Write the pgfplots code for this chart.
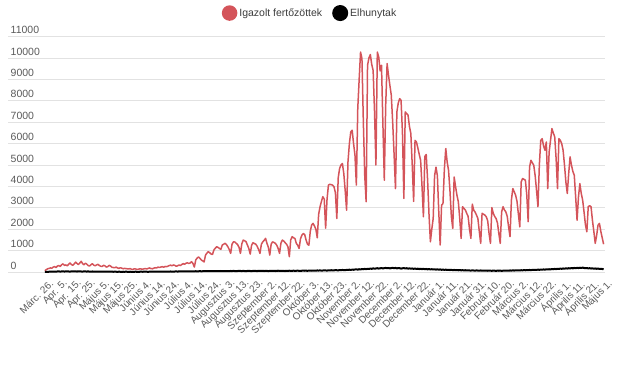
\documentclass[border=0pt]{standalone}
\usepackage{pgfplots}
\pgfplotsset{compat=1.18}
\usepackage{pgfplotstable}
\usepackage{fontspec}
\setmainfont{Liberation Sans}
\definecolor{casered}{RGB}{212,84,90}
\definecolor{gridgray}{RGB}{226,226,226}
\definecolor{ticktext}{RGB}{90,90,90}
\definecolor{legtext}{RGB}{60,60,60}

% daily confirmed cases, Márc. 26. (index 0) ... Május 1. (index 400)
\pgfplotstableread[row sep=\\]{c\\
60\\110\\150\\170\\190\\180\\230\\250\\210\\280\\
300\\260\\340\\380\\310\\330\\290\\360\\420\\350\\
310\\380\\460\\400\\350\\420\\500\\390\\340\\410\\
370\\300\\280\\340\\390\\320\\290\\330\\360\\300\\
270\\260\\310\\290\\230\\250\\310\\280\\220\\210\\
200\\230\\190\\170\\200\\180\\150\\170\\160\\150\\
140\\160\\130\\120\\150\\140\\120\\130\\150\\140\\
130\\150\\160\\140\\170\\190\\160\\150\\180\\200\\
190\\230\\210\\230\\250\\220\\260\\250\\270\\300\\
320\\290\\330\\310\\270\\290\\330\\300\\350\\390\\
360\\410\\430\\400\\420\\480\\400\\230\\560\\650\\
700\\640\\560\\520\\470\\790\\880\\950\\900\\840\\
820\\1030\\1110\\1180\\1150\\1100\\1060\\1260\\1300\\1340\\
1280\\1180\\1050\\870\\1300\\1410\\1400\\1340\\1280\\1150\\
870\\1320\\1490\\1460\\1420\\1260\\1100\\840\\1250\\1370\\
1330\\1300\\1200\\1050\\870\\1300\\1410\\1480\\1570\\1340\\
1150\\790\\1300\\1410\\1380\\1340\\1250\\1100\\870\\1350\\
1490\\1450\\1370\\1300\\1180\\715\\1500\\1650\\1600\\1570\\
1340\\1250\\1100\\1550\\1720\\1800\\1750\\1490\\1300\\1250\\
1900\\2200\\2270\\2150\\2000\\1600\\2700\\3050\\3300\\3520\\
3400\\2050\\3400\\4060\\4100\\4080\\4060\\3980\\3700\\2500\\
4400\\4840\\5000\\5070\\4600\\3800\\2890\\5150\\6000\\6550\\
6625\\6000\\5460\\4060\\7640\\9000\\10280\\9970\\7000\\4500\\
3280\\9660\\10000\\10160\\9700\\9420\\7500\\5000\\10280\\10050\\
9400\\9660\\6900\\4290\\7800\\9740\\9200\\8720\\8260\\7000\\
5500\\3900\\7480\\7900\\8100\\8020\\6500\\3440\\7480\\7400\\
7330\\6800\\6470\\5000\\3300\\6150\\6075\\5800\\5500\\5220\\
4000\\2580\\5400\\5490\\4300\\2700\\1410\\2000\\2500\\4500\\
4900\\4500\\2800\\1260\\3120\\3200\\4800\\5770\\5140\\4750\\
3800\\2600\\2040\\4440\\4000\\3590\\3280\\2500\\1570\\3050\\
2970\\2900\\2740\\2600\\2000\\1570\\3170\\2890\\2800\\2660\\
2500\\1900\\1340\\2740\\2700\\2660\\2580\\2400\\1800\\1340\\
3010\\2740\\2600\\2500\\2300\\1800\\1340\\2810\\3050\\2900\\
2810\\2600\\2100\\1650\\3360\\3900\\3750\\3590\\3300\\2700\\
2110\\4210\\4370\\4330\\4290\\3600\\2350\\4910\\5220\\5100\\
4990\\4500\\3800\\3050\\5000\\6150\\6230\\5900\\5690\\6075\\
3900\\5600\\6150\\6700\\6500\\6310\\5300\\3900\\6230\\6150\\
6000\\5690\\5000\\4200\\3670\\4600\\5380\\4990\\4700\\4520\\
3500\\2420\\3500\\4130\\3670\\3360\\2800\\2200\\1880\\3050\\
3100\\3050\\2420\\1900\\1340\\1700\\2190\\2270\\1900\\1600\\
1300\\
}\cases

% daily deaths
\pgfplotstableread[row sep=\\]{d\\
5\\8\\10\\12\\15\\18\\20\\22\\18\\25\\
28\\20\\25\\30\\22\\26\\30\\24\\20\\28\\
32\\25\\28\\22\\30\\26\\24\\20\\28\\25\\
22\\26\\20\\18\\24\\20\\16\\22\\18\\15\\
20\\17\\14\\18\\15\\12\\16\\14\\13\\11\\
14\\12\\10\\13\\11\\9\\12\\10\\14\\11\\
9\\12\\10\\8\\11\\13\\10\\9\\12\\14\\
11\\13\\15\\12\\10\\14\\16\\13\\15\\18\\
14\\17\\19\\16\\20\\18\\22\\19\\17\\21\\
24\\20\\18\\23\\26\\22\\25\\28\\24\\30\\
27\\32\\26\\29\\35\\30\\28\\33\\36\\31\\
34\\38\\33\\36\\40\\35\\42\\38\\36\\41\\
44\\39\\37\\45\\42\\40\\47\\43\\41\\38\\
46\\42\\39\\48\\44\\50\\45\\41\\47\\52\\
48\\44\\51\\46\\42\\49\\55\\47\\43\\50\\
53\\48\\45\\52\\47\\56\\50\\46\\54\\49\\
44\\51\\57\\48\\53\\46\\55\\60\\52\\48\\
56\\50\\45\\58\\53\\61\\49\\55\\62\\51\\
57\\63\\54\\50\\60\\66\\58\\62\\55\\68\\
64\\58\\70\\66\\61\\72\\68\\75\\63\\70\\
78\\72\\66\\80\\75\\84\\70\\77\\88\\82\\
76\\90\\85\\96\\88\\82\\100\\94\\108\\98\\
110\\104\\118\\125\\112\\130\\120\\138\\128\\145\\
135\\150\\142\\160\\148\\170\\155\\165\\178\\160\\
172\\185\\168\\180\\192\\175\\188\\170\\182\\195\\
178\\190\\168\\183\\176\\160\\172\\185\\165\\178\\
158\\170\\152\\165\\148\\160\\142\\155\\138\\150\\
135\\148\\130\\142\\125\\138\\120\\132\\118\\128\\
112\\125\\108\\120\\102\\115\\98\\110\\95\\105\\
92\\100\\88\\96\\85\\94\\80\\90\\78\\86\\
75\\84\\70\\80\\72\\66\\78\\70\\64\\74\\
68\\62\\72\\65\\60\\70\\63\\58\\68\\61\\
56\\66\\60\\54\\64\\58\\62\\55\\60\\68\\
62\\70\\64\\72\\66\\75\\68\\78\\72\\80\\
74\\84\\78\\88\\80\\92\\85\\96\\88\\100\\
94\\105\\98\\110\\102\\115\\108\\120\\112\\125\\
118\\130\\122\\138\\128\\145\\135\\150\\140\\158\\
148\\165\\155\\172\\160\\178\\168\\185\\172\\190\\
178\\195\\182\\200\\188\\205\\190\\175\\185\\170\\
178\\162\\170\\155\\165\\150\\158\\145\\152\\140\\
130\\
}\deaths

\begin{document}
\begin{tikzpicture}
\begin{axis}[
  at={(0,0)}, anchor=south west,
  scale only axis,
  width=597bp, height=235.4bp,
  xmin=-26.4, xmax=401,
  ymin=0, ymax=11000,
  axis line style={draw=none},
  tick style={draw=none},
  major tick length=0pt,
  ymajorgrids,
  grid style={gridgray, line width=0.8bp},
  ytick={0,1000,...,11000},
  xtick={0,10,...,400},
  xticklabels={Márc. 26.,Apr. 5.,Apr. 15.,Apr. 25.,Május 5.,Május 15.,Május 25.,Június 4.,Június 14.,Június 24.,Július 4.,Július 14.,Július 24.,Augusztus 3.,Augusztus 13.,Augusztus 23.,Szeptember 2.,Szeptember 12.,Szeptember 22.,Október 3.,Október 13.,Október 23.,November 2.,November 12.,November 22.,December 2.,December 12.,December 22.,Január 1.,Január 11.,Január 21.,Január 31.,Február 10.,Február 20.,Március 2.,Március 12.,Március 22.,Április 1.,Április 11.,Április 21.,Május 1.},
  x tick label style={rotate=45, anchor=north east, font=\fontsize{10bp}{12bp}\selectfont, text=ticktext, inner sep=1bp, yshift=-6.5bp, xshift=-1bp},
  y tick label style={anchor=south west, font=\fontsize{10.5bp}{12bp}\selectfont, text=ticktext, inner sep=2.5bp},
  scaled y ticks=false,
  /pgf/number format/1000 sep={},
  /pgf/number format/assume math mode=true,
  clip=false,
  legend style={draw=none, fill=none, at={(0.506,1.10)}, anchor=center,
    legend columns=2, font=\fontsize{10.5bp}{12bp}\selectfont, text=legtext,
    /tikz/every even column/.append style={column sep=8bp},
    inner sep=0pt},
  legend cell align=left,
]
\addplot[casered, line width=1.5bp, line join=round,
  legend image code/.code={\fill[casered] (0bp,0bp) circle (7bp);}]
  table[x expr=\coordindex, y=c] {\cases};
\addlegendentry{Igazolt fertőzöttek}
\addplot[black, line width=2bp, line join=round,
  legend image code/.code={\fill[black] (0bp,0bp) circle (7bp);}]
  table[x expr=\coordindex, y=d] {\deaths};
\addlegendentry{Elhunytak}
\end{axis}
\pgfresetboundingbox
\path (-8bp,-113bp) rectangle (610bp,272bp);
\end{tikzpicture}
\end{document}
